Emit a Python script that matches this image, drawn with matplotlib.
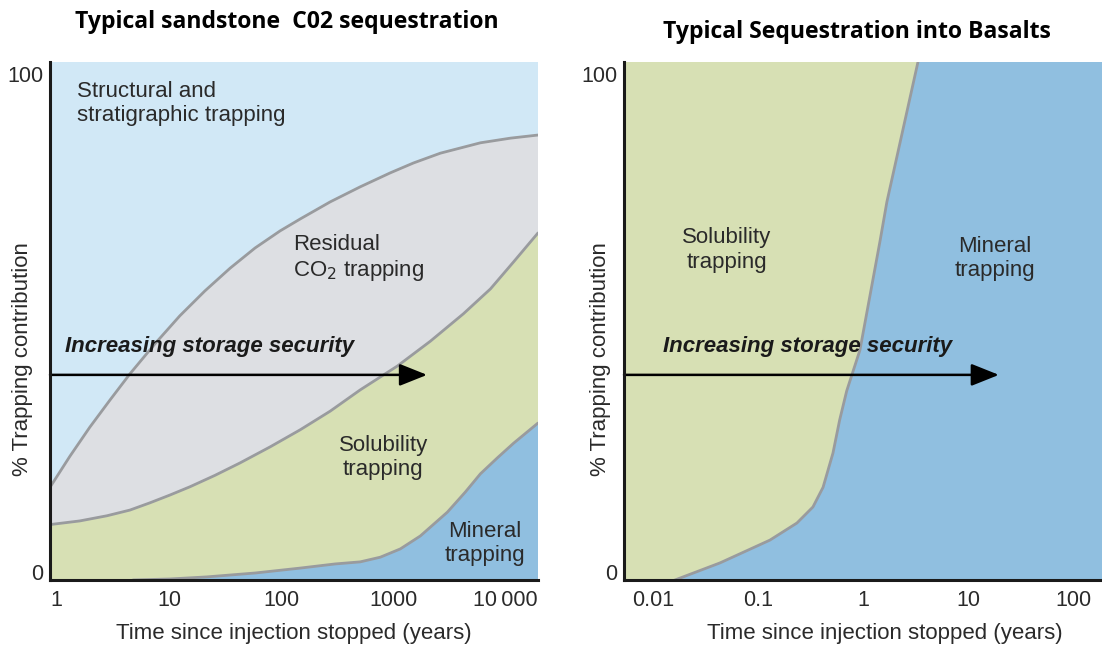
import matplotlib
matplotlib.use("Agg")
import matplotlib.pyplot as plt
import matplotlib.transforms as mtransforms
from matplotlib.ticker import NullFormatter, NullLocator

# ---------------- data ----------------
# Left panel: typical sandstone (time in years, % trapping contribution)
sand_upper_t = [0.87, 1.31, 1.97, 2.97, 4.49, 7.5, 12.5, 20.9, 35.1, 58.6, 98, 148,
                274, 507, 940, 1510, 2630, 5980, 11090, 19500]
sand_upper_y = [17.9, 23.9, 29.5, 34.7, 39.8, 45.6, 51.0, 55.8, 60.2, 64.1, 67.4, 69.7,
                73.0, 75.9, 78.6, 80.5, 82.4, 84.4, 85.3, 85.9]

sand_mid_t = [0.87, 1.60, 2.80, 4.49, 6.77, 10.2, 15.4, 25.7, 43.0, 79.8, 148, 274,
              507, 1086, 2140, 4220, 7350, 11800, 19500]
sand_mid_y = [10.7, 11.4, 12.4, 13.5, 14.9, 16.4, 18.0, 20.2, 22.6, 25.7, 29.0, 32.6,
              36.7, 41.3, 46.1, 51.4, 56.2, 61.4, 67.0]

sand_low_t = [4.77, 10.2, 21.8, 58.6, 148, 303, 507, 765, 1155, 1742, 3035, 4395,
              5980, 8490, 11800, 19500]
sand_low_y = [0, 0.2, 0.6, 1.35, 2.3, 3.1, 3.5, 4.4, 6.0, 8.5, 13.1, 17.0,
              20.5, 23.6, 26.4, 30.3]

sand_ticks = [1, 10, 100, 1000, 10000]
sand_ticklabels = ["1", "10", "100", "1000", "10\u2009000"]

# Right panel: basalts
basalt_t = [0.0162, 0.0435, 0.13, 0.235, 0.334, 0.417, 0.518, 0.60, 0.70, 0.936, 1.45, 1.69, 3.34]
basalt_y = [0, 3.3, 7.7, 11.0, 14.1, 17.9, 24.5, 30.9, 36.5, 44.4, 65.3, 73.0, 100]

basalt_ticks = [0.01, 0.1, 1, 10, 100]
basalt_ticklabels = ["0.01", "0.1", "1", "10", "100"]

# ---------------- style ----------------
C_STRUCT = "#d1e8f6"
C_RESID = "#dddfe3"
C_SOLUB = "#d7e0b4"
C_MINER = "#90bfe0"
C_LINE = "#999b9e"
C_TEXT = "#2a2a2a"
FONT = "Liberation Sans"

fig = plt.figure(figsize=(11.02, 6.48), dpi=100)
W, H = 1102, 648
ax1 = fig.add_axes([50 / W, (H - 580) / H, (538 - 50) / W, (580 - 62) / H])
ax2 = fig.add_axes([624 / W, (H - 580) / H, (1102 - 624) / W, (580 - 62) / H])

XL1 = (0.87, 19500)
XL2 = (0.0053, 189)


def style_axes(ax, xlim, ticks, labels):
    ax.set_xscale("log")
    ax.set_xlim(*xlim)
    ax.set_ylim(0, 100)
    ax.set_xticks(ticks)
    ax.set_xticklabels(labels, fontfamily=FONT, fontsize=15.5, color=C_TEXT)
    ax.xaxis.set_minor_locator(NullLocator())
    ax.xaxis.set_minor_formatter(NullFormatter())
    ax.set_yticks([0, 100])
    ax.set_yticklabels(["0", "100"], fontfamily=FONT, fontsize=15.5, color=C_TEXT)
    ax.tick_params(axis="x", length=0, pad=7)
    ax.tick_params(axis="y", length=0, pad=5)
    for s in ("top", "right"):
        ax.spines[s].set_visible(False)
    for s in ("left", "bottom"):
        ax.spines[s].set_linewidth(2.2)
        ax.spines[s].set_color("#1a1a1a")
        ax.spines[s].set_zorder(5)
    lbls = ax.get_yticklabels()
    lbls[0].set_transform(lbls[0].get_transform() + mtransforms.ScaledTranslation(0, 6 / 72, fig.dpi_scale_trans))
    lbls[1].set_transform(lbls[1].get_transform() + mtransforms.ScaledTranslation(0, -9 / 72, fig.dpi_scale_trans))
    ax.set_xlabel("Time since injection stopped (years)", fontfamily=FONT, fontsize=16, color=C_TEXT)
    ax.set_ylabel("% Trapping contribution", fontfamily=FONT, fontsize=16, color=C_TEXT)


# ---------------- left panel ----------------
ax1.set_facecolor(C_STRUCT)
ax1.fill(sand_upper_t + sand_mid_t[::-1], sand_upper_y + sand_mid_y[::-1], color=C_RESID, lw=0, zorder=1)
ax1.fill(sand_mid_t + sand_low_t[::-1] + [XL1[0]], sand_mid_y + sand_low_y[::-1] + [0],
         color=C_SOLUB, lw=0, zorder=1)
ax1.fill(sand_low_t + [XL1[1]], sand_low_y + [0], color=C_MINER, lw=0, zorder=1)
for t, y in ((sand_upper_t, sand_upper_y), (sand_mid_t, sand_mid_y), (sand_low_t, sand_low_y)):
    ax1.plot(t, y, color=C_LINE, lw=2, solid_joinstyle="round", solid_capstyle="round", zorder=2)

style_axes(ax1, XL1, sand_ticks, sand_ticklabels)

txt_kw = dict(fontfamily=FONT, fontsize=16, color=C_TEXT, linespacing=1.2, zorder=4)
ax1.text(1.5, 92, "Structural and\nstratigraphic trapping", ha="left", va="center", **txt_kw)
ax1.text(128, 62.1, "Residual\nCO$_2$ trapping", ha="left", va="center", **txt_kw)
ax1.text(813, 23.6, "Solubility\ntrapping", ha="center", va="center", **txt_kw)
ax1.text(6600, 7.0, "Mineral\ntrapping", ha="center", va="center", **txt_kw)

arrow_kw = dict(arrowstyle="-|>,head_length=0.85,head_width=0.34", color="black", lw=1.8,
                shrinkA=0, shrinkB=0, mutation_scale=20)
ax1.annotate("", xy=(2000, 39.6), xytext=(XL1[0], 39.6), arrowprops=arrow_kw, zorder=4)
sec_kw = dict(fontfamily=FONT, fontsize=16, fontweight="bold", fontstyle="italic",
              color="#1a1a1a", ha="left", va="center", zorder=4)
ax1.text(1.18, 45, "Increasing storage security", **sec_kw)

# ---------------- right panel ----------------
ax2.fill([XL2[0]] + basalt_t + [XL2[0]], [0] + basalt_y + [100], color=C_SOLUB, lw=0, zorder=1)
ax2.fill(basalt_t + [XL2[1], XL2[1]], basalt_y + [100, 0], color=C_MINER, lw=0, zorder=1)
ax2.plot(basalt_t, basalt_y, color=C_LINE, lw=2, solid_joinstyle="round", zorder=2)

style_axes(ax2, XL2, basalt_ticks, basalt_ticklabels)

ax2.text(0.0507, 63.7, "Solubility\ntrapping", ha="center", va="center", **txt_kw)
ax2.text(18.1, 62.1, "Mineral\ntrapping", ha="center", va="center", **txt_kw)
ax2.annotate("", xy=(19.7, 39.6), xytext=(XL2[0], 39.6), arrowprops=arrow_kw, zorder=4)
ax2.text(0.0124, 45, "Increasing storage security", **sec_kw)

for ax, xc, yx in ((ax1, 0.5, -0.057), (ax2, 0.546, -0.05)):
    ax.xaxis.set_label_coords(xc, -0.104)
    ax.xaxis.label.set_va("center")
    ax.yaxis.set_label_coords(yx, 0.427)
    ax.yaxis.label.set_va("center")

fig.text(287 / W, 1 - 22 / H, "Typical sandstone  C02 sequestration", ha="center", va="center",
         fontfamily="Open Sans", fontweight="bold", fontsize=16.6, color="black")
fig.text(857 / W, 1 - 32 / H, "Typical Sequestration into Basalts", ha="center", va="center",
         fontfamily="Open Sans", fontweight="bold", fontsize=16.6, color="black")

fig.savefig("out.png", dpi=100, facecolor="white")
